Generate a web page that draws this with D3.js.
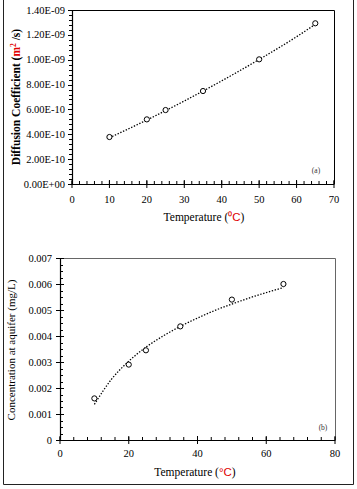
<!DOCTYPE html>
<html><head><meta charset="utf-8">
<script src="https://cdn.jsdelivr.net/npm/d3@7"></script>
<style>body{margin:0;background:#fff}svg{display:block}text{font-family:"Liberation Serif","Times New Roman",serif}</style>
</head><body><svg id="c" width="357" height="489"></svg>
<script>
// Panel (a): diffusion coefficient
const tempA = [10, 20, 25, 35, 50, 65];
const diffA = [3.78e-10, 5.2e-10, 5.95e-10, 7.48e-10, 1.003e-9, 1.293e-9];
const trendTempA = [10, 20, 30, 40, 50, 60, 65];
const trendDiffA = [3.72e-10, 5.15e-10, 6.68e-10, 8.3e-10, 1.002e-9, 1.185e-9, 1.285e-9];
const yTicksA = [0, 2e-10, 4e-10, 6e-10, 8e-10, 1e-9, 1.2e-9, 1.4e-9];
const yTickLabelsA = ["0.00E+00","2.00E-10","4.00E-10","6.00E-10","8.00E-10","1.00E-09","1.20E-09","1.40E-09"];
const xTicksA = [0, 10, 20, 30, 40, 50, 60, 70];

// Panel (b): concentration at aquifer
const tempB = [10, 20, 25, 35, 50, 65];
const concB = [0.0016, 0.0029, 0.00345, 0.00437, 0.0054, 0.006];
const trendTempB = [10, 15, 20, 25, 30, 35, 40, 45, 50, 55, 60, 65];
const trendConcB = [0.00137, 0.00234, 0.00303, 0.00357, 0.004, 0.00437, 0.00469, 0.00498, 0.00523, 0.00546, 0.00567, 0.00586];
const yTicksB = [0, 0.001, 0.002, 0.003, 0.004, 0.005, 0.006, 0.007];
const yTickLabelsB = ["0","0.001","0.002","0.003","0.004","0.005","0.006","0.007"];
const xTicksB = [0, 20, 40, 60, 80];

const svg = d3.select("#c");
// outer frame
svg.append("path").attr("d","M3.5,0V484.5H353.5V0").attr("fill","none").attr("stroke","#222").attr("stroke-width",1);

function panel(o){
  const g = svg.append("g");
  const x = d3.scaleLinear().domain(o.xDom).range([o.L, o.R]);
  const y = d3.scaleLinear().domain(o.yDom).range([o.B, o.T]);
  // frame top/right
  g.append("path").attr("d",`M${o.L},${o.T+0.5}H${o.R+0.5}V${o.B}`).attr("fill","none").attr("stroke",o.frameColor).attr("stroke-width",1);
  // minor x ticks (inside, upward)
  const xm = d3.range(o.xDom[0], o.xDom[1]+1e-9, o.xMinor);
  g.selectAll(null).data(xm).enter().append("line")
    .attr("x1",d=>x(d)).attr("x2",d=>x(d)).attr("y1",o.B).attr("y2",o.B-3).attr("stroke","#000");
  // major x ticks (cross)
  g.selectAll(null).data(o.xTicks).enter().append("line")
    .attr("x1",d=>x(d)).attr("x2",d=>x(d)).attr("y1",o.B+4).attr("y2",o.B-4).attr("stroke","#000");
  // x axis line
  g.append("line").attr("x1",o.L).attr("x2",o.R+0.5).attr("y1",o.B+0.5).attr("y2",o.B+0.5).attr("stroke","#000").attr("stroke-width",1.2);
  // x labels
  g.selectAll(null).data(o.xTicks).enter().append("text")
    .attr("x",d=>x(d)).attr("y",o.xLabY).attr("text-anchor","middle").attr("font-size",10.5).text(d=>d);
  // y minor ticks
  const ym = d3.range(0, o.yTicks.length-1).flatMap(i=>d3.range(0,o.yMinorN).map(k=>o.yTicks[i]+(o.yTicks[i+1]-o.yTicks[i])*k/o.yMinorN));
  ym.push(o.yTicks[o.yTicks.length-1]);
  g.selectAll(null).data(ym).enter().append("line")
    .attr("x1",o.L).attr("x2",o.L+o.yTickDir*3).attr("y1",d=>Math.round(y(d))+0.5).attr("y2",d=>Math.round(y(d))+0.5).attr("stroke","#000");
  g.selectAll(null).data(o.yTicks).enter().append("line")
    .attr("x1",o.L-4).attr("x2",o.L+(o.yTickDir>0?4:0)).attr("y1",d=>Math.round(y(d))+0.5).attr("y2",d=>Math.round(y(d))+0.5).attr("stroke","#000");
  g.append("line").attr("x1",o.L+0.5).attr("x2",o.L+0.5).attr("y1",o.T).attr("y2",o.B+0.5).attr("stroke","#000").attr("stroke-width",1.2);
  g.selectAll(null).data(o.yTicks).enter().append("text")
    .attr("x",o.yLabX).attr("y",d=>y(d)+3.5).attr("text-anchor","end").attr("font-size",10.5)
    .text((d,i)=>o.yLabels[i]);
  // trend line
  const line = d3.line().x(d=>x(d[0])).y(d=>y(d[1])).curve(d3.curveMonotoneX);
  g.append("path").datum(d3.zip(o.tx,o.ty)).attr("d",line).attr("fill","none")
    .attr("stroke","#000").attr("stroke-width",1.3).attr("stroke-dasharray","1.4,1.6");
  // points
  g.selectAll(null).data(d3.zip(o.px,o.py)).enter().append("circle")
    .attr("cx",d=>x(d[0])).attr("cy",d=>y(d[1])).attr("r",2.6)
    .attr("fill","#fff").attr("stroke","#000").attr("stroke-width",1);
  // panel tag
  g.append("text").attr("x",o.tagX).attr("y",o.tagY).attr("font-size",7.5).attr("text-anchor","middle").attr("fill","#333").text(o.tag);
  // x title
  const xt = g.append("text").attr("x",o.xTitleX).attr("y",o.xTitleY).attr("text-anchor","middle").attr("font-size",11.5);
  xt.append("tspan").text("Temperature (");
  xt.append("tspan").attr("fill","#e00000").attr("font-family","Liberation Sans, Arial, sans-serif").text(o.deg);
  xt.append("tspan").text(")");
  return {x,y};
}

panel({xDom:[0,70], yDom:[0,1.4e-9], L:72, R:334, T:10, B:184, frameColor:"#000",
  xTicks:xTicksA, xMinor:2, yTicks:yTicksA, yLabels:yTickLabelsA, yMinorN:5, yTickDir:-1,
  xLabY:203, yLabX:65, tx:trendTempA, ty:trendDiffA, px:tempA, py:diffA,
  tag:"(a)", tagX:316, tagY:173, xTitleX:204, xTitleY:221, deg:"\u2070C"});

panel({xDom:[0,80], yDom:[0,0.007], L:60, R:335, T:258, B:440, frameColor:"#666",
  xTicks:xTicksB, xMinor:4, yTicks:yTicksB, yLabels:yTickLabelsB, yMinorN:4, yTickDir:1,
  xLabY:457, yLabX:52, tx:trendTempB, ty:trendConcB, px:tempB, py:concB,
  tag:"(b)", tagX:323, tagY:430, xTitleX:195, xTitleY:476, deg:"\u00B0C"});

// y titles
const yt1 = svg.append("text").attr("transform","translate(20,97) rotate(-90)").attr("text-anchor","middle")
  .attr("font-size",11.5).attr("font-weight","bold");
yt1.append("tspan").text("Diffusion Coefficient (");
yt1.append("tspan").attr("fill","#e00000").text("m");
yt1.append("tspan").attr("fill","#e00000").attr("font-size",7.5).attr("dy",-4).text("2");
yt1.append("tspan").attr("dy",4).text(" /s)");

svg.append("text").attr("transform","translate(15,350) rotate(-90)").attr("text-anchor","middle")
  .attr("font-size",11).text("Concentration at aquifer (mg/L)");
</script></body></html>
